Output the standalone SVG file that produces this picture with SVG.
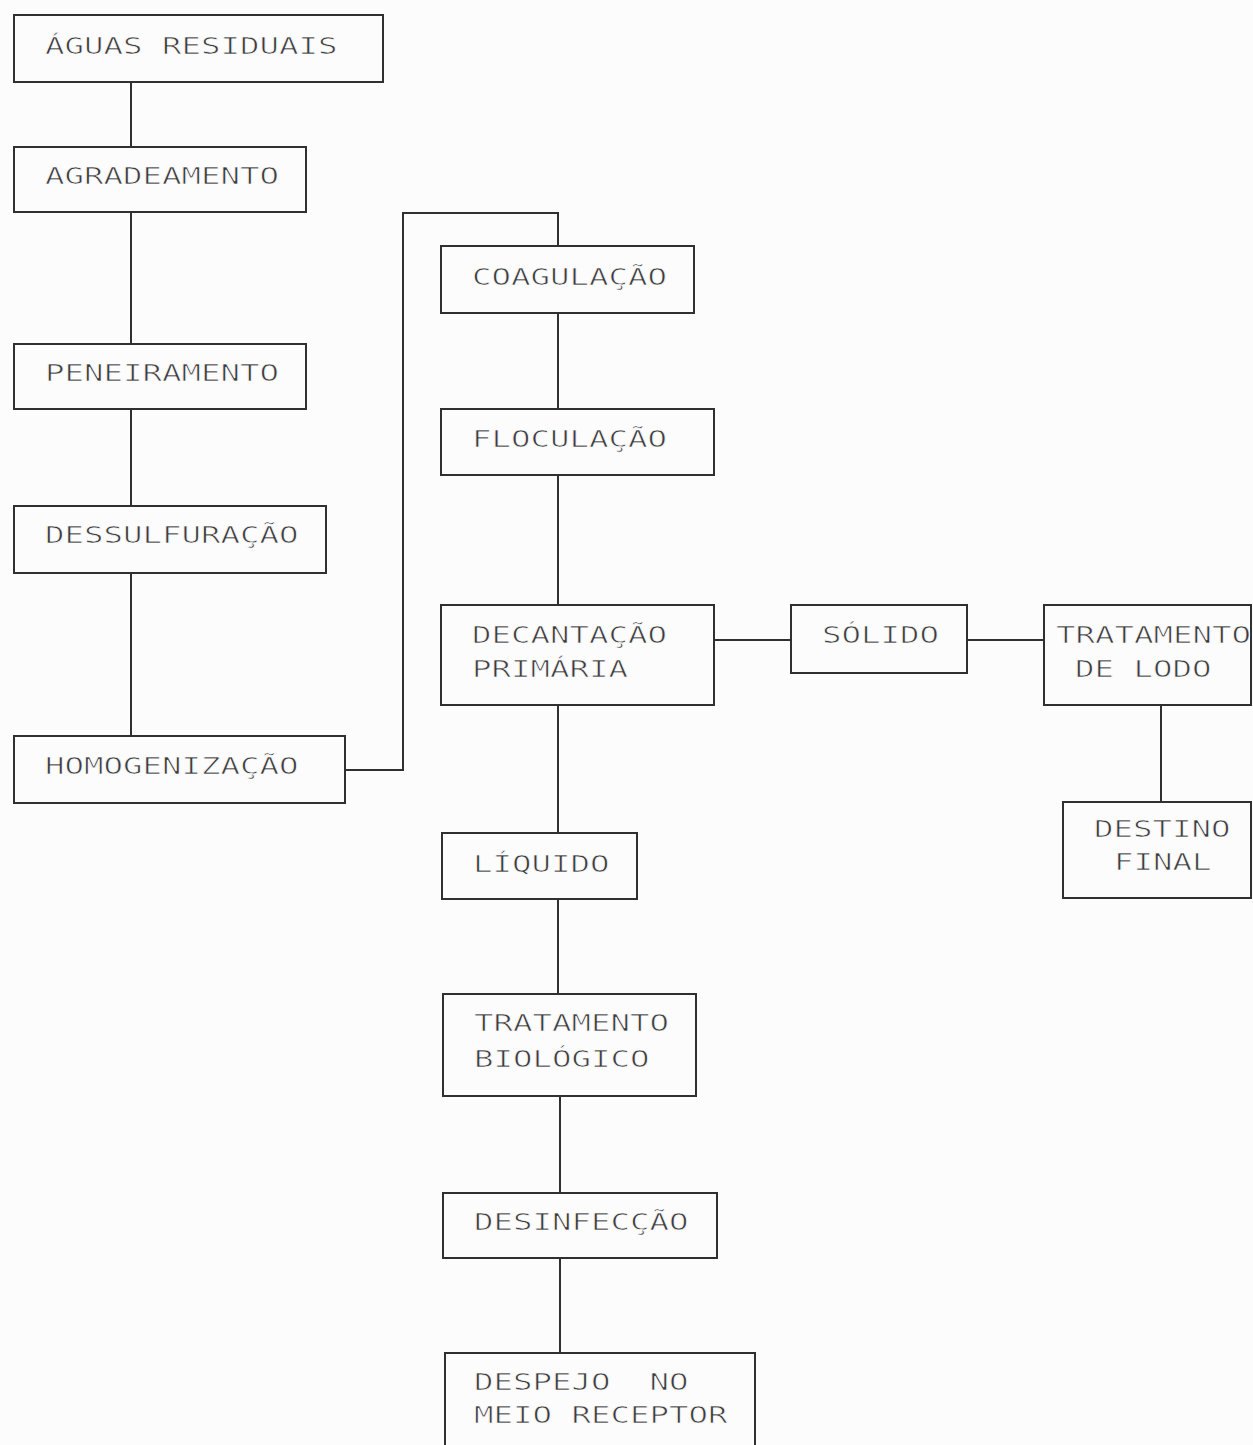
<svg xmlns="http://www.w3.org/2000/svg" width="1253" height="1445" viewBox="0 0 1253 1445">
<style>
.box{fill:none;stroke:#303030;stroke-width:2}
.conn{fill:none;stroke:#303030;stroke-width:2}
text{font-family:"DejaVu Sans Mono","Liberation Mono",monospace;font-size:23px;fill:#3c3c3c;stroke:#fcfcfc;stroke-width:0.7;white-space:pre}
</style>
<rect width="1253" height="1445" fill="#fcfcfc"/>
<g id="connectors">
<path class="conn" d="M131 82V147M131 212V344M131 409V506M131 573V736"/>
<path class="conn" d="M345 770H403V213H558V246"/>
<path class="conn" d="M558 313V409M558 475V605M558 705V833M558 899V994"/>
<path class="conn" d="M560 1096V1193M560 1258V1353"/>
<path class="conn" d="M714 640H791M967 640H1044M1161 705V802"/>
</g>
<g id="aguas"><rect class="box" x="14" y="15" width="369" height="67"/><text x="45" y="54" textLength="292.5" lengthAdjust="spacingAndGlyphs">ÁGUAS RESIDUAIS</text></g>
<g id="agradeamento"><rect class="box" x="14" y="147" width="292" height="65"/><text x="45" y="184" textLength="234" lengthAdjust="spacingAndGlyphs">AGRADEAMENTO</text></g>
<g id="peneiramento"><rect class="box" x="14" y="344" width="292" height="65"/><text x="45" y="381" textLength="234" lengthAdjust="spacingAndGlyphs">PENEIRAMENTO</text></g>
<g id="dessulfuracao"><rect class="box" x="14" y="506" width="312" height="67"/><text x="45" y="543" textLength="253.5" lengthAdjust="spacingAndGlyphs">DESSULFURAÇÃO</text></g>
<g id="homogenizacao"><rect class="box" x="14" y="736" width="331" height="67"/><text x="45" y="774" textLength="253.5" lengthAdjust="spacingAndGlyphs">HOMOGENIZAÇÃO</text></g>
<g id="coagulacao"><rect class="box" x="441" y="246" width="253" height="67"/><text x="472" y="285" textLength="195" lengthAdjust="spacingAndGlyphs">COAGULAÇÃO</text></g>
<g id="floculacao"><rect class="box" x="441" y="409" width="273" height="66"/><text x="472" y="447" textLength="195" lengthAdjust="spacingAndGlyphs">FLOCULAÇÃO</text></g>
<g id="decantacao"><rect class="box" x="441" y="605" width="273" height="100"/><text x="472" y="643" textLength="195" lengthAdjust="spacingAndGlyphs">DECANTAÇÃO</text><text x="472" y="677" textLength="156" lengthAdjust="spacingAndGlyphs">PRIMÁRIA</text></g>
<g id="solido"><rect class="box" x="791" y="605" width="176" height="68"/><text x="822" y="643" textLength="117" lengthAdjust="spacingAndGlyphs">SÓLIDO</text></g>
<g id="tratamento-lodo"><rect class="box" x="1044" y="605" width="207" height="100"/><text x="1056" y="643" textLength="195" lengthAdjust="spacingAndGlyphs">TRATAMENTO</text><text x="1075" y="677" textLength="136.5" lengthAdjust="spacingAndGlyphs">DE LODO</text></g>
<g id="destino-final"><rect class="box" x="1063" y="802" width="188" height="96"/><text x="1094" y="837" textLength="136.5" lengthAdjust="spacingAndGlyphs">DESTINO</text><text x="1114" y="870" textLength="97.5" lengthAdjust="spacingAndGlyphs">FINAL</text></g>
<g id="liquido"><rect class="box" x="442" y="833" width="195" height="66"/><text x="473" y="872" textLength="136.5" lengthAdjust="spacingAndGlyphs">LÍQUIDO</text></g>
<g id="tratamento-biologico"><rect class="box" x="443" y="994" width="253" height="102"/><text x="474" y="1031" textLength="195" lengthAdjust="spacingAndGlyphs">TRATAMENTO</text><text x="474" y="1067" textLength="175.5" lengthAdjust="spacingAndGlyphs">BIOLÓGICO</text></g>
<g id="desinfeccao"><rect class="box" x="443" y="1193" width="274" height="65"/><text x="474" y="1230" textLength="214.5" lengthAdjust="spacingAndGlyphs">DESINFECÇÃO</text></g>
<g id="despejo"><rect class="box" x="445" y="1353" width="310" height="110"/><text x="474" y="1390" textLength="214.5" lengthAdjust="spacingAndGlyphs">DESPEJO  NO</text><text x="474" y="1423" textLength="253.5" lengthAdjust="spacingAndGlyphs">MEIO RECEPTOR</text></g>
</svg>
